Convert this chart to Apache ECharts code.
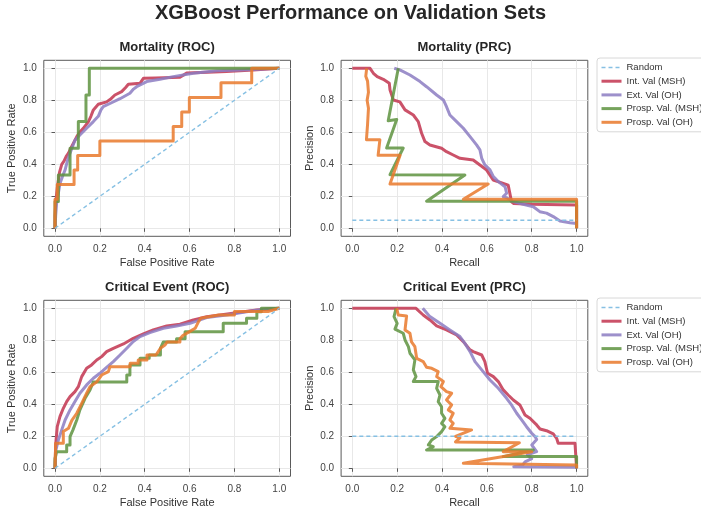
<!DOCTYPE html>
<html><head><meta charset="utf-8">
<script src="https://cdn.jsdelivr.net/npm/echarts@6/dist/echarts.min.js"></script>
<style>html,body{margin:0;padding:0;background:#fff}#c{width:701px;height:517px}</style>
</head><body><div id="c"></div><script>
// ---------- data ----------
const tickValues = [0, 0.2, 0.4, 0.6, 0.8, 1.0];
const seriesNames = ['Random', 'Int. Val (MSH)', 'Ext. Val (OH)', 'Prosp. Val. (MSH)', 'Prosp. Val (OH)'];
const panelTitles = ['Mortality (ROC)', 'Mortality (PRC)', 'Critical Event (ROC)', 'Critical Event (PRC)'];
const xLabels = ['False Positive Rate', 'Recall', 'False Positive Rate', 'Recall'];
const yLabels = ['True Positive Rate', 'Precision', 'True Positive Rate', 'Precision'];

const rocRandom = [[0, 0], [1, 1]];
const mortPrcRandom = [[0, 0.05], [1, 0.05]];
const critPrcRandom = [[0, 0.2], [1, 0.2]];

// Mortality ROC
const mortRocInt = [[0,0],[0,0.08],[0.003,0.15],[0.006,0.2],[0.01,0.25],[0.015,0.3],[0.02,0.35],[0.03,0.4],[0.04,0.42],[0.05,0.45],[0.06,0.47],[0.074,0.51],[0.085,0.54],[0.097,0.573],[0.11,0.6],[0.126,0.625],[0.149,0.667],[0.16,0.7],[0.171,0.74],[0.193,0.775],[0.23,0.79],[0.25,0.81],[0.267,0.833],[0.297,0.854],[0.315,0.88],[0.327,0.9],[0.379,0.906],[0.394,0.9375],[0.45,0.94],[0.557,0.944],[0.587,0.97],[0.68,0.975],[0.765,0.98],[0.884,0.99],[0.89,1.0],[1,1]];
const mortRocExt = [[0,0],[0.003,0.08],[0.007,0.156],[0.015,0.22],[0.022,0.28],[0.035,0.33],[0.045,0.365],[0.055,0.42],[0.067,0.47],[0.078,0.51],[0.089,0.55],[0.111,0.583],[0.141,0.625],[0.171,0.667],[0.193,0.7],[0.205,0.74],[0.215,0.76],[0.245,0.78],[0.29,0.81],[0.334,0.844],[0.35,0.87],[0.364,0.885],[0.409,0.917],[0.468,0.931],[0.527,0.948],[0.617,0.969],[0.721,0.985],[0.825,0.99],[1,1]];
const mortRocProspMsh = [[0,0],[0,0.167],[0.015,0.167],[0.015,0.333],[0.067,0.333],[0.067,0.5],[0.104,0.5],[0.104,0.667],[0.138,0.667],[0.138,0.833],[0.153,0.833],[0.153,1],[1,1]];
const mortRocProspOh = [[0,0],[0,0.182],[0.01,0.182],[0.01,0.273],[0.085,0.273],[0.085,0.364],[0.101,0.364],[0.101,0.455],[0.2,0.455],[0.2,0.545],[0.527,0.545],[0.527,0.636],[0.565,0.636],[0.565,0.727],[0.599,0.727],[0.599,0.818],[0.74,0.818],[0.74,0.909],[0.877,0.909],[0.877,1],[1,1]];

// Mortality PRC
const mortPrcInt = [[0,1],[0.079,1],[0.094,0.969],[0.111,0.948],[0.138,0.931],[0.165,0.906],[0.168,0.865],[0.183,0.802],[0.212,0.79],[0.235,0.74],[0.272,0.708],[0.294,0.667],[0.309,0.594],[0.324,0.542],[0.346,0.521],[0.398,0.5],[0.42,0.479],[0.45,0.458],[0.48,0.4375],[0.539,0.427],[0.569,0.396],[0.599,0.364],[0.628,0.302],[0.673,0.281],[0.695,0.27],[0.71,0.166],[0.72,0.155],[0.8,0.15],[1,0.145],[1,0]];
const mortPrcExt = [[0.187,1],[0.212,0.99],[0.257,0.958],[0.302,0.917],[0.331,0.885],[0.376,0.833],[0.406,0.802],[0.42,0.76],[0.435,0.708],[0.465,0.667],[0.495,0.625],[0.525,0.573],[0.554,0.521],[0.569,0.49],[0.577,0.4375],[0.591,0.396],[0.614,0.365],[0.629,0.323],[0.651,0.292],[0.681,0.26],[0.688,0.219],[0.673,0.198],[0.69,0.19],[0.71,0.17],[0.762,0.15],[0.807,0.135],[0.836,0.104],[0.866,0.095],[0.896,0.073],[0.926,0.045],[0.97,0.035],[1,0.03]];
const mortPrcProspMsh = [[0.205,1],[0.16,0.672],[0.198,0.68],[0.153,0.502],[0.227,0.502],[0.168,0.335],[0.502,0.333],[0.331,0.169],[1,0.169],[1,0]];
const mortPrcProspOh = [[0.064,1],[0.06,0.95],[0.068,0.92],[0.072,0.85],[0.066,0.8],[0.072,0.75],[0.068,0.65],[0.063,0.554],[0.123,0.554],[0.115,0.456],[0.213,0.456],[0.168,0.277],[0.606,0.277],[0.495,0.181],[1,0.181],[1,0]];

// Critical event ROC
const critRocInt = [[0,0],[0.003,0.15],[0.01,0.26],[0.022,0.323],[0.037,0.375],[0.052,0.417],[0.067,0.448],[0.089,0.479],[0.104,0.51],[0.119,0.573],[0.141,0.625],[0.163,0.646],[0.186,0.677],[0.208,0.698],[0.23,0.729],[0.26,0.75],[0.305,0.777],[0.349,0.8125],[0.394,0.84],[0.438,0.865],[0.498,0.89],[0.557,0.9],[0.617,0.927],[0.676,0.948],[0.736,0.958],[0.825,0.975],[0.899,0.99],[1,1]];
const critRocExt = [[0,0],[0.004,0.115],[0.015,0.177],[0.03,0.24],[0.045,0.302],[0.067,0.365],[0.089,0.417],[0.111,0.469],[0.141,0.521],[0.171,0.5625],[0.2,0.594],[0.23,0.631],[0.26,0.667],[0.29,0.708],[0.32,0.75],[0.349,0.792],[0.379,0.823],[0.423,0.848],[0.483,0.875],[0.542,0.89],[0.602,0.906],[0.676,0.942],[0.765,0.958],[0.854,0.979],[0.929,0.994],[1,1]];
const critRocProspMsh = [[0,0],[0,0.06],[0.007,0.104],[0.052,0.104],[0.052,0.146],[0.067,0.146],[0.067,0.198],[0.08,0.24],[0.097,0.302],[0.111,0.365],[0.134,0.4375],[0.156,0.49],[0.171,0.54],[0.32,0.54],[0.32,0.583],[0.334,0.583],[0.334,0.646],[0.379,0.646],[0.379,0.688],[0.42,0.688],[0.42,0.708],[0.47,0.708],[0.47,0.75],[0.483,0.79],[0.542,0.79],[0.542,0.81],[0.58,0.81],[0.58,0.854],[0.75,0.854],[0.75,0.906],[0.854,0.906],[0.854,0.938],[0.9,0.938],[0.9,0.979],[0.92,0.979],[0.92,1],[1,1]];
const critRocProspOh = [[0,0],[0.003,0.156],[0.037,0.156],[0.037,0.23],[0.06,0.25],[0.075,0.3],[0.097,0.344],[0.119,0.406],[0.141,0.469],[0.156,0.51],[0.186,0.54],[0.208,0.583],[0.238,0.604],[0.245,0.635],[0.335,0.635],[0.335,0.656],[0.371,0.656],[0.371,0.677],[0.41,0.677],[0.41,0.708],[0.45,0.708],[0.47,0.75],[0.49,0.77],[0.5,0.79],[0.557,0.79],[0.557,0.81],[0.57,0.83],[0.6,0.854],[0.625,0.875],[0.64,0.917],[0.65,0.938],[0.73,0.958],[0.8,0.958],[0.8,0.98],[0.95,0.98],[1,1]];

// Critical event PRC
const critPrcInt = [[0,1],[0.284,1],[0.316,0.958],[0.346,0.927],[0.376,0.89],[0.42,0.865],[0.465,0.833],[0.495,0.792],[0.525,0.74],[0.539,0.729],[0.577,0.708],[0.591,0.667],[0.603,0.594],[0.629,0.573],[0.651,0.542],[0.673,0.49],[0.695,0.458],[0.718,0.427],[0.747,0.396],[0.77,0.333],[0.792,0.3125],[0.822,0.271],[0.837,0.246],[0.866,0.235],[0.896,0.215],[0.911,0.1875],[0.918,0.156],[0.993,0.156],[1,0]];
const critPrcExt = [[0.314,1],[0.346,0.948],[0.391,0.906],[0.435,0.865],[0.48,0.823],[0.502,0.781],[0.525,0.729],[0.547,0.667],[0.577,0.615],[0.614,0.552],[0.651,0.5],[0.688,0.4375],[0.71,0.396],[0.733,0.344],[0.755,0.302],[0.777,0.26],[0.8,0.219],[0.815,0.198],[0.822,0.18],[0.8,0.146],[0.822,0.104],[0.78,0.085],[0.8,0.06],[0.77,0.04],[0.76,0.021],[0.72,0.01],[1,0.006]];
const critPrcProspMsh = [[0.195,1],[0.186,0.948],[0.2,0.906],[0.19,0.87],[0.227,0.844],[0.235,0.802],[0.25,0.76],[0.257,0.719],[0.279,0.677],[0.272,0.615],[0.284,0.573],[0.272,0.542],[0.383,0.542],[0.376,0.5],[0.391,0.458],[0.383,0.417],[0.398,0.385],[0.398,0.344],[0.413,0.3125],[0.398,0.281],[0.413,0.26],[0.398,0.229],[0.376,0.198],[0.354,0.177],[0.339,0.146],[0.361,0.135],[0.331,0.114],[0.807,0.114],[0.673,0.073],[1,0.073],[1,0]];
const critPrcProspOh = [[0.198,1],[0.205,0.958],[0.242,0.952],[0.235,0.865],[0.257,0.844],[0.264,0.79],[0.279,0.76],[0.287,0.6875],[0.316,0.667],[0.331,0.631],[0.354,0.625],[0.383,0.604],[0.376,0.573],[0.406,0.542],[0.395,0.51],[0.42,0.479],[0.443,0.469],[0.42,0.427],[0.443,0.396],[0.428,0.365],[0.45,0.344],[0.435,0.302],[0.45,0.281],[0.435,0.25],[0.532,0.24],[0.46,0.2],[0.48,0.19],[0.46,0.165],[0.745,0.16],[0.673,0.104],[0.8,0.104],[0.495,0.031],[1,0.02],[1,0]];

// ---------- styling / layout ----------
const FONT = '"Liberation Sans", Arial, sans-serif';
const colors = ['#86c0e3', '#c2344f', '#8c7cc2', '#5e933f', '#e9792c'];
const gridBoxes = [
  {left: 43.8, top: 60.3}, {left: 341.1, top: 60.3},
  {left: 43.8, top: 300.3}, {left: 341.1, top: 300.3}
];
const W = 246.7, H = 176;

const panelData = [
  [rocRandom, mortRocInt, mortRocExt, mortRocProspMsh, mortRocProspOh],
  [mortPrcRandom, mortPrcInt, mortPrcExt, mortPrcProspMsh, mortPrcProspOh],
  [rocRandom, critRocInt, critRocExt, critRocProspMsh, critRocProspOh],
  [critPrcRandom, critPrcInt, critPrcExt, critPrcProspMsh, critPrcProspOh]
];

const grids = gridBoxes.map(b => ({
  left: b.left, top: b.top, width: W, height: H,
  show: true, borderColor: '#5a5a5a', borderWidth: 1, backgroundColor: '#fff'
}));

function axisCommon(g, name, isX) {
  return {
    type: 'value', gridIndex: g, min: -0.05, max: 1.05,
    name: name, nameLocation: 'middle', nameGap: isX ? 21 : 26,
    nameTextStyle: {fontSize: 11, color: '#333', fontFamily: FONT},
    axisLine: {show: false},
    axisTick: {show: true, customValues: tickValues, length: 3.5, lineStyle: {color: '#5a5a5a', width: 1}},
    axisLabel: {customValues: tickValues, formatter: v => v.toFixed(1), fontSize: 10, color: '#444', fontFamily: FONT, margin: isX ? 8 : 7},
    splitLine: {show: true, lineStyle: {color: '#e8e8e8', width: 1}}
  };
}

const xAxes = [0,1,2,3].map(g => axisCommon(g, xLabels[g], true));
const yAxes = [0,1,2,3].map(g => axisCommon(g, yLabels[g], false));

const series = [];
panelData.forEach((arrs, g) => {
  arrs.forEach((d, k) => {
    const isRandom = k === 0;
    series.push({
      type: 'line', name: seriesNames[k], xAxisIndex: g, yAxisIndex: g,
      data: d, symbol: 'none', showSymbol: false, silent: true,
      z: isRandom ? 3 : 2,
      lineStyle: isRandom
        ? {color: colors[0], width: 1.4, type: [4, 3]}
        : {color: colors[k], width: 3, opacity: 0.85, join: 'round'},
      itemStyle: {color: colors[k]}
    });
  });
});

const titles = [{
  text: 'XGBoost Performance on Validation Sets', left: 350.5, top: 3, textAlign: 'center', padding: 0,
  textStyle: {fontSize: 20, fontWeight: 'bold', color: '#262626', fontFamily: FONT}
}];
gridBoxes.forEach((b, i) => {
  titles.push({
    text: panelTitles[i], left: b.left + W / 2, top: b.top - 19, textAlign: 'center', padding: 0,
    textStyle: {fontSize: 13, fontWeight: 'bold', color: '#262626', fontFamily: FONT}
  });
});

const legendItems = seriesNames.map((n, k) => (
  k === 0 ? {name: n, lineStyle: {width: 1.4}} : {name: n, lineStyle: {width: 3}}
));

function legendAt(top) {
  return {
    orient: 'vertical', left: 597, top: top, data: legendItems,
    itemWidth: 20, itemHeight: 10, itemGap: 2.7,
    itemStyle: {opacity: 0},
    lineStyle: {width: 3},
    textStyle: {fontSize: 9.5, color: '#333', fontFamily: FONT, lineHeight: 11},
    borderColor: '#d8d8d8', borderWidth: 1, borderRadius: 3,
    padding: [4, 6, 4, 3], backgroundColor: '#fff', selectedMode: false
  };
}

const chart = echarts.init(document.getElementById('c'), null, {renderer: 'canvas'});
chart.setOption({
  animation: false,
  backgroundColor: '#fff',
  title: titles,
  legend: [legendAt(58), legendAt(298)],
  grid: grids,
  xAxis: xAxes,
  yAxis: yAxes,
  series: series
});
</script></body></html>
